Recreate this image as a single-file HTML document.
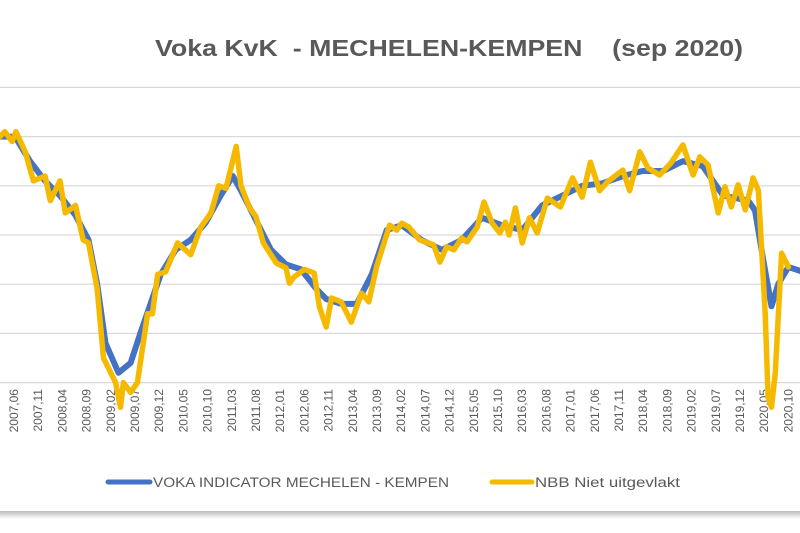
<!DOCTYPE html>
<html><head><meta charset="utf-8"><style>
html,body{margin:0;padding:0;background:#fff;}
svg{display:block;font-family:"Liberation Sans",sans-serif;}
</style></head><body>
<svg id="chart" width="800" height="533" viewBox="0 0 800 533">
<defs><linearGradient id="sh" x1="0" y1="0" x2="0" y2="1"><stop offset="0" stop-color="#bbb"/><stop offset="1" stop-color="#fff"/></linearGradient></defs>
<rect x="0" y="0" width="800" height="512" fill="#fff"/>
<rect x="0" y="511" width="800" height="8" fill="url(#sh)"/>
<text x="155" y="56" font-size="23" font-weight="bold" fill="#595959" textLength="588" lengthAdjust="spacingAndGlyphs" xml:space="preserve">Voka KvK  - MECHELEN-KEMPEN    (sep 2020)</text>
<g id="grid"></g>
<g id="xlabels"></g>
<g id="series"></g>
<g>
<g>
<line x1="108" y1="482" x2="150" y2="482" stroke="#4472C4" stroke-width="5" stroke-linecap="round"/>
<text x="153" y="487" font-size="13.5" fill="#595959" textLength="296" lengthAdjust="spacingAndGlyphs">VOKA INDICATOR MECHELEN - KEMPEN</text>
</g>
<g>
<line x1="492" y1="482" x2="532" y2="482" stroke="#F5BA00" stroke-width="5" stroke-linecap="round"/>
<text x="535" y="487" font-size="13.5" fill="#595959" textLength="145" lengthAdjust="spacingAndGlyphs">NBB Niet uitgevlakt</text>
</g>
</g>
</svg>
<script>
// months since 2007-01 (t) and index values
const gridValues = [-30,-20,-10,0,10,20,30];
const tickLabels = ["2007,06","2007,11","2008,04","2008,09","2009,02","2009,07","2009,12","2010,05","2010,10","2011,03","2011,08","2012,01","2012,06","2012,11","2013,04","2013,09","2014,02","2014,07","2014,12","2015,05","2015,10","2016,03","2016,08","2017,01","2017,06","2017,11","2018,04","2018,09","2019,02","2019,07","2019,12","2020,05","2020,10"];
const tickMonths = [5,10,15,20,25,30,35,40,45,50,55,60,65,70,75,80,85,90,95,100,105,110,115,120,125,130,135,140,145,150,155,160,165];
const nbbMonths = [2.1,3.1,4.6,5.4,7.3,9,11.4,12.5,14.5,15.6,17.7,19.3,20.4,22.2,23.5,26,27,27.6,29.1,30.5,32.6,33.6,34.7,36.3,38.8,41.5,43.6,45.7,47.3,48.8,50.9,51.9,53.6,55,56.5,59.2,61.2,61.9,62.9,65,67,68.1,69.5,70.6,72.6,74.7,76.8,78.3,79.9,82.6,84.1,85.1,86.6,88.8,91.7,93,94.4,95.9,97.5,98.6,100.7,102.1,103.8,105.4,106.5,107.3,108.6,110,111.5,113.1,115.2,117.9,120.4,122.4,124.1,126,127.6,130.8,132.2,134.3,136,138.4,140.7,143.2,145.3,146.7,148.4,150.5,151.9,153.2,154.6,156.1,157.7,158.8,160.2,160.8,161.5,162.3,163.6,165];
const nbbValues = [20,21,19,21,17,11,12,7,11,4.5,6,-1,-1.6,-11,-25,-30,-35,-30,-32,-30,-16,-16,-8,-7.5,-1.6,-4,1.6,4.5,10,9.5,18,10,5.7,3.7,-1.6,-5.7,-6.7,-9.8,-8.5,-7,-7.7,-14.6,-18.7,-12.8,-13.6,-17.7,-11.8,-13.6,-6.5,2,1,2.4,1.6,-1,-2,-5.5,-2.4,-3,-0.6,-1.4,1.6,6.7,2.4,0.4,2.6,0,5.5,-1.6,3.5,0.4,7.5,5.7,11.6,7.7,14.8,9,10.8,13.2,9,16.9,13.6,12.2,14.6,18.3,12.2,15.9,14.2,4.5,9.8,5.7,10.2,5.1,11.6,9,-16,-33,-35,-28,-3.7,-6.5];
const vokaMonths = [2.1,5.2,8.3,11.4,14.5,17.7,20.4,22.2,23.9,26.6,29.1,31.1,33.2,35.3,38.4,41.5,44.6,47.7,50.2,51.9,55,58.1,61.2,64.3,67.5,69.5,72.6,75.8,78.9,82,85.1,89.2,93.4,97.5,101.7,105.8,110,114.1,118.3,122.4,126.6,130.8,134.9,139.1,143.2,147.3,151.5,156.7,158.1,159.8,161.5,162.9,165,168.1];
const vokaValues = [20,20,15,11,8,4,-1,-10,-22,-28,-26,-20,-14,-8,-3,-1,2.5,8,12,9,3,-3,-6,-7,-11,-13,-14,-14,-8,1,2,-1,-3,-1,3.5,2,1,6,8,10,10.5,12,13,13,15,14,8,7,5,-5,-14.5,-10,-6.5,-7.5];

const NS='http://www.w3.org/2000/svg';
const xS = t => 14 + (t-5)*4.84;
const yS = v => 235 - v*4.92;
const grid=document.getElementById('grid'), xl=document.getElementById('xlabels'), ser=document.getElementById('series');
gridValues.forEach(v=>{
  const l=document.createElementNS(NS,'line');
  l.setAttribute('x1',0);l.setAttribute('x2',800);l.setAttribute('y1',yS(v));l.setAttribute('y2',yS(v));
  l.setAttribute('stroke','#d9d9d9');l.setAttribute('stroke-width','1.2');
  
  
  grid.appendChild(l);
});
tickLabels.forEach((s,i)=>{
  const x=xS(tickMonths[i])+4;
  const t=document.createElementNS(NS,'text');
  t.setAttribute('transform',`translate(${x},389) rotate(-90)`);
  t.setAttribute('text-anchor','end');t.setAttribute('font-size','12');t.setAttribute('fill','#595959');
  t.textContent=s;
  
  
  xl.appendChild(t);
});
function path(ms,vs,color,w,name){
  const p=document.createElementNS(NS,'path');
  p.setAttribute('d',ms.map((m,i)=>(i?'L':'M')+xS(m).toFixed(1)+' '+yS(vs[i]).toFixed(1)).join(' '));
  p.setAttribute('fill','none');p.setAttribute('stroke',color);p.setAttribute('stroke-width',w);
  p.setAttribute('stroke-linejoin','round');p.setAttribute('stroke-linecap','round');
  
  
  ser.appendChild(p);
}
path(vokaMonths,vokaValues,'#4472C4',6,'voka-indicator-line');
path(nbbMonths,nbbValues,'#F5BA00',5.5,'nbb-line');
</script>
</body></html>
